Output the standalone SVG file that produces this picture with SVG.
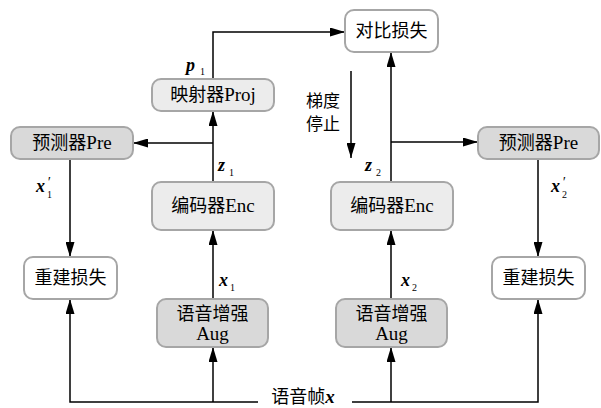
<svg xmlns="http://www.w3.org/2000/svg" width="601" height="408" viewBox="0 0 601 408">
<defs>
<style>
.box{stroke:#a6a6a6;stroke-width:2}
.w{fill:#ffffff}.l{fill:#ececec}.d{fill:#d9d9d9}
.t{font-family:"Noto Sans CJK SC","Liberation Serif",serif;font-size:18px;fill:#000;text-anchor:middle}
.e{font-family:"Liberation Serif",serif;font-size:19px}
.c{stroke:#000;stroke-width:1.5;fill:none}
.v{font-family:"Liberation Serif",serif;font-size:18px;font-weight:bold;font-style:italic;fill:#000}
.s{font-family:"Liberation Serif",serif;font-size:10px;font-weight:normal;font-style:normal;fill:#000}
.p{font-family:"Liberation Serif",serif;font-size:14px;font-weight:normal;font-style:italic;fill:#000}
.g{font-family:"Noto Sans CJK SC",sans-serif;font-size:17px;fill:#000}
</style>
<marker id="b" viewBox="0 0 16 10" refX="16" refY="5" markerWidth="15" markerHeight="9" markerUnits="userSpaceOnUse" orient="auto" preserveAspectRatio="none">
<path d="M0,0 L16,5 L0,10 z" fill="#000"/>
</marker>
</defs>
<rect width="601" height="408" fill="#fff"/>
<g id="connectors">
<path class="c" d="M213,79 V32 H345" marker-end="url(#b)"/>
<path class="c" d="M213,182 V111" marker-end="url(#b)"/>
<path class="c" d="M213,143 H133" marker-end="url(#b)"/>
<path class="c" d="M70,159 V257" marker-end="url(#b)"/>
<path class="c" d="M213,299 V230" marker-end="url(#b)"/>
<path class="c" d="M391,182 V52" marker-end="url(#b)"/>
<path class="c" d="M391,142 H478" marker-end="url(#b)"/>
<path class="c" d="M538,159 V257" marker-end="url(#b)"/>
<path class="c" d="M391,299 V230" marker-end="url(#b)"/>
<path class="c" d="M351,71 V158" marker-end="url(#b)"/>
<path class="c" d="M258,402 H70 V299" marker-end="url(#b)"/>
<path class="c" d="M213,402 V347" marker-end="url(#b)"/>
<path class="c" d="M352,402 H538 V299" marker-end="url(#b)"/>
<path class="c" d="M391,402 V347" marker-end="url(#b)"/>
</g>
<g id="contrast"><rect class="box w" x="345" y="10" width="93" height="42" rx="9"/><text class="t" x="391.5" y="37">对比损失</text></g>
<g id="proj"><rect class="box l" x="152" y="79" width="122" height="32" rx="9"/><text class="t" x="213" y="101">映射器<tspan class="e">Proj</tspan></text></g>
<g id="pre1"><rect class="box d" x="11" y="127" width="122" height="32" rx="9"/><text class="t" x="72" y="149">预测器<tspan class="e">Pre</tspan></text></g>
<g id="enc1"><rect class="box l" x="152" y="182" width="122" height="48" rx="9"/><text class="t" x="213" y="212">编码器<tspan class="e">Enc</tspan></text></g>
<g id="rec1"><rect class="box w" x="24" y="257" width="93" height="42" rx="9"/><text class="t" x="70.5" y="284">重建损失</text></g>
<g id="aug1"><rect class="box d" x="157" y="299" width="111" height="48" rx="9"/><text class="t" x="212.5" y="320">语音增强</text><text class="t" x="212.5" y="340"><tspan class="e">Aug</tspan></text></g>
<g id="pre2"><rect class="box d" x="478" y="127" width="121" height="32" rx="9"/><text class="t" x="538.5" y="149">预测器<tspan class="e">Pre</tspan></text></g>
<g id="enc2"><rect class="box l" x="331" y="182" width="122" height="48" rx="9"/><text class="t" x="392" y="212">编码器<tspan class="e">Enc</tspan></text></g>
<g id="rec2"><rect class="box w" x="492" y="257" width="93" height="42" rx="9"/><text class="t" x="538.5" y="284">重建损失</text></g>
<g id="aug2"><rect class="box d" x="336" y="299" width="111" height="48" rx="9"/><text class="t" x="391.5" y="320">语音增强</text><text class="t" x="391.5" y="340"><tspan class="e">Aug</tspan></text></g>
<g id="labels">
<text class="v" x="186" y="71">p<tspan class="s" x="200" y="75">1</tspan></text>
<text class="v" x="218" y="171">z<tspan class="s" x="229" y="176">1</tspan></text>
<text class="v" x="219" y="286">x<tspan class="s" x="230" y="291">1</tspan></text>
<text class="v" x="365" y="171">z<tspan class="s" x="376" y="176">2</tspan></text>
<text class="v" x="401" y="286">x<tspan class="s" x="412" y="291">2</tspan></text>
<text class="v" x="36" y="192">x<tspan class="p" x="47" y="187">′</tspan><tspan class="s" x="47" y="198">1</tspan></text>
<text class="v" x="551" y="192">x<tspan class="p" x="562" y="187">′</tspan><tspan class="s" x="562" y="198">2</tspan></text>
<text class="g" x="306" y="107">梯度</text>
<text class="g" x="306" y="130">停止</text>
<text class="t" x="303" y="403" font-size="17">语音帧<tspan class="e" font-weight="bold" font-style="italic">x</tspan></text>
</g>
</svg>
